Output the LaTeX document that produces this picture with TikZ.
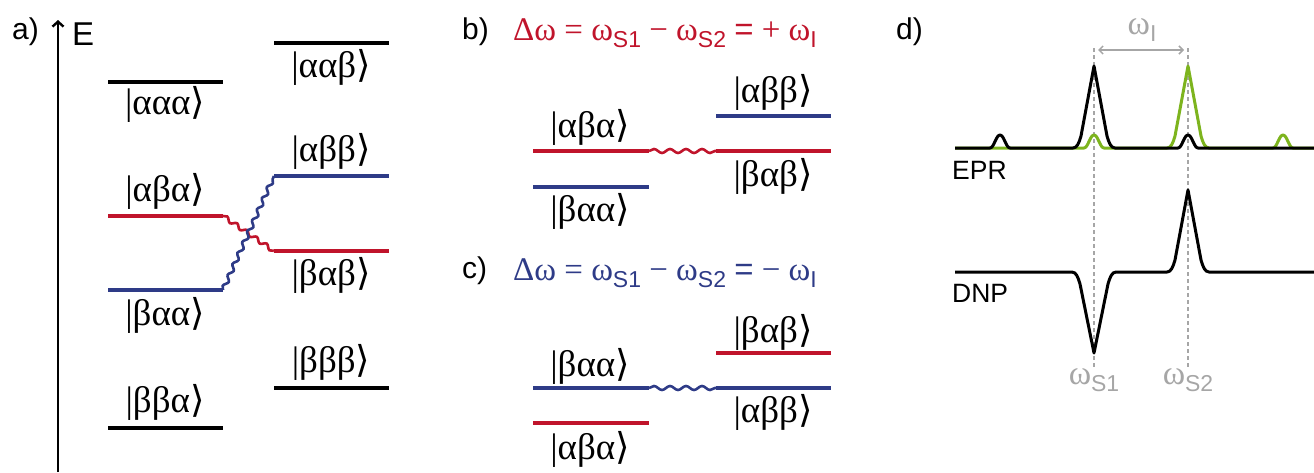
\documentclass[tikz,border=0pt]{standalone}
\usepackage{fontspec}
\setmainfont{Liberation Sans}
\setsansfont{Liberation Sans}
\newfontfamily\grk{Liberation Serif}
\newfontfamily\brk{DejaVu Sans}
\usetikzlibrary{arrows.meta, positioning, calc, decorations.pathmorphing}
\definecolor{cRed}{HTML}{C0142B}
\definecolor{cBlue}{HTML}{2E3B87}
\definecolor{cGreen}{HTML}{7DB41E}
\definecolor{cGray}{HTML}{A6A6A6}
\newcommand{\kt}[1]{{\grk |#1}{\brk ⟩}}
\newcommand{\sbs}[1]{\raisebox{-7pt}{\sffamily\fontsize{23}{23}\selectfont #1}}

\begin{document}
\begin{tikzpicture}[x=1pt, y=-1pt, font=\fontsize{30}{34}\selectfont,
  lvl/.style={line width=3.1pt},
  wiggle/.style={line width=2.6pt, decorate, decoration={snake, amplitude=2pt, segment length=12pt}},
  ket/.style={font=\fontsize{37}{40}\selectfont, inner sep=0pt},
  eqn/.style={anchor=west, inner sep=0pt, font=\fontsize{33}{36}\selectfont},
  spec/.style={line width=3pt, line join=round},
  guide/.style={cGray, line width=1.5pt, dash pattern=on 4pt off 3pt}]
\useasboundingbox (0,0) rectangle (1314,472);

% a) level scheme
\node[anchor=west, inner sep=0pt] (lbla) at (12,32) {a)};
\coordinate (axbot) at (58,472);
\coordinate (axtop) at (58,20);
\draw[line width=2.4pt, -{Straight Barb[length=5pt,width=11pt]}] (axbot) -- (axtop);
\node[anchor=west, inner sep=0pt, font=\fontsize{33}{36}\selectfont] (lblE) at (72,34) {E};
\foreach \nm/\y/\col in {aaa/82/black, aba/216/cRed, baa/290/cBlue, bba/428/black}
  \draw[lvl, \col] (108,\y) coordinate (\nm-l) -- (223,\y) coordinate (\nm-r);
\foreach \nm/\y/\col in {aab/43/black, abb/176/cBlue, bab/251/cRed, bbb/388/black}
  \draw[lvl, \col] (274,\y) coordinate (\nm-l) -- (389,\y) coordinate (\nm-r);
\draw[wiggle, cRed] (aba-r) -- (bab-l);
\draw[wiggle, cBlue] (baa-r) -- (abb-l);
\node[ket] (kaaa) at (165,104) {\kt{ααα}};
\node[ket] (kaba) at (165,191) {\kt{αβα}};
\node[ket] (kbaa) at (165,315) {\kt{βαα}};
\node[ket] (kbba) at (165,402) {\kt{ββα}};
\node[ket] (kaab) at (331,67) {\kt{ααβ}};
\node[ket] (kabb) at (331,151) {\kt{αββ}};
\node[ket] (kbab) at (331,275) {\kt{βαβ}};
\node[ket] (kbbb) at (331,362) {\kt{βββ}};

% b) positive mismatch
\node[anchor=west, inner sep=0pt] (lblb) at (462,32) {b)};
\node[eqn, cRed] (eqb) at (513,33) {\grk Δω = ω\sbs{S1} − ω\sbs{S2} \textsf{=} + ω\sbs{I}};
\draw[lvl, cRed] (533,151) coordinate (b-aba-l) -- (649,151) coordinate (b-aba-r);
\draw[lvl, cRed] (716,151) coordinate (b-bab-l) -- (831,151) coordinate (b-bab-r);
\draw[wiggle, cRed, segment length=16pt] (b-aba-r) -- (b-bab-l);
\draw[lvl, cBlue] (716,116) -- (831,116);
\draw[lvl, cBlue] (533,187) -- (649,187);
\node[ket] (b-kaba) at (590,127) {\kt{αβα}};
\node[ket] (b-kabb) at (773,92) {\kt{αββ}};
\node[ket] (b-kbab) at (773,176) {\kt{βαβ}};
\node[ket] (b-kbaa) at (590,211) {\kt{βαα}};

% c) negative mismatch
\node[anchor=west, inner sep=0pt] (lblc) at (462,271) {c)};
\node[eqn, cBlue] (eqc) at (513,273) {\grk Δω = ω\sbs{S1} − ω\sbs{S2} \textsf{=} − ω\sbs{I}};
\draw[lvl, cBlue] (533,388) coordinate (c-baa-l) -- (649,388) coordinate (c-baa-r);
\draw[lvl, cBlue] (716,388) coordinate (c-abb-l) -- (831,388) coordinate (c-abb-r);
\draw[wiggle, cBlue, segment length=16pt] (c-baa-r) -- (c-abb-l);
\draw[lvl, cRed] (716,353) -- (831,353);
\draw[lvl, cRed] (533,423) -- (649,423);
\node[ket] (c-kbaa) at (590,366) {\kt{βαα}};
\node[ket] (c-kbab) at (773,332) {\kt{βαβ}};
\node[ket] (c-kabb) at (773,412) {\kt{αββ}};
\node[ket] (c-kaba) at (590,449) {\kt{αβα}};

% d) spectra
\node[anchor=west, inner sep=0pt] (lbld) at (896,32) {d)};
\node[cGray, inner sep=0pt, font=\fontsize{34}{36}\selectfont] (wI) at (1142,30) {{\grk ω}\sbs{I}};
\node[cGray, inner sep=0pt, font=\fontsize{34}{36}\selectfont] (wS1) at (1094,380) {{\grk ω}\sbs{S1}};
\node[cGray, inner sep=0pt, font=\fontsize{34}{36}\selectfont] (wS2) at (1188,380) {{\grk ω}\sbs{S2}};
\coordinate (g1) at (1094,48);
\coordinate (g2) at (1188,48);
\draw[guide] (g1) -- (wS1.north -| g1);
\draw[guide] (g2) -- (wS2.north -| g2);
\draw[cGray, line width=1.5pt, {Straight Barb[length=4pt,width=8pt]}-{Straight Barb[length=4pt,width=8pt]}] ($(g1)+(4,2)$) -- ($(g2)+(-4,2)$);
\node[anchor=west, inner sep=0pt, font=\fontsize{26.5}{30}\selectfont] (lblepr) at (952,170) {EPR};
\node[anchor=west, inner sep=0pt, font=\fontsize{26.5}{30}\selectfont] (lbldnp) at (952,293) {DNP};
\draw[spec, cGreen] (955,148) -- (1084,148)
  .. controls (1088,148) and (1090,135) .. (1094,135) .. controls (1098,135) and (1100,148) .. (1104,148)
  -- (1167,148) .. controls (1171,148) and (1173,143) .. (1175,136) -- (1188,66) -- (1201,136)
  .. controls (1203,143) and (1205,148) .. (1209,148)
  -- (1273,148) .. controls (1277,148) and (1279,135) .. (1283,135) .. controls (1287,135) and (1289,148) .. (1293,148)
  -- (1314,148);
\draw[spec] (955,148) -- (990,148)
  .. controls (994,148) and (996,135) .. (1000,135) .. controls (1004,135) and (1006,148) .. (1010,148)
  -- (1073,148) .. controls (1077,148) and (1079,143) .. (1081,136) -- (1094,66) -- (1107,136)
  .. controls (1109,143) and (1111,148) .. (1115,148)
  -- (1178,148) .. controls (1182,148) and (1184,135) .. (1188,135) .. controls (1192,135) and (1194,148) .. (1198,148)
  -- (1314,148);
\draw[spec] (955,272) -- (1072,272) .. controls (1076,272) and (1078,277) .. (1080,284) -- (1094,353) -- (1108,284)
  .. controls (1110,277) and (1112,272) .. (1116,272)
  -- (1167,272) .. controls (1171,272) and (1173,267) .. (1175,260) -- (1188,190) -- (1201,260)
  .. controls (1203,267) and (1205,272) .. (1209,272) -- (1314,272);
\end{tikzpicture}
\end{document}
